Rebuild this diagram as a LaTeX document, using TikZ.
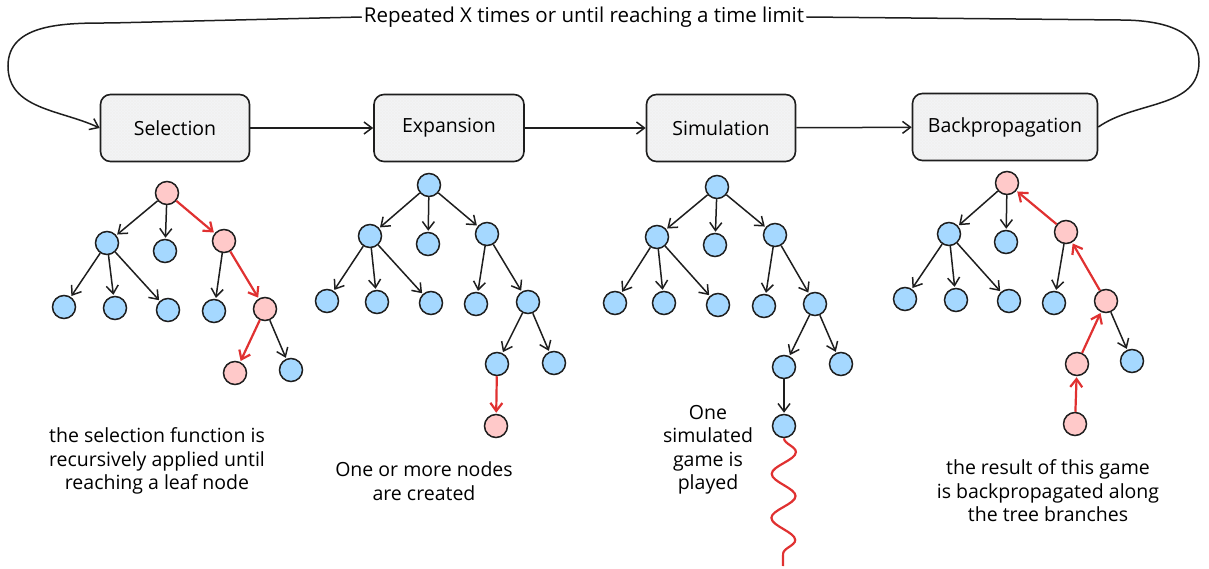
\documentclass[tikz,border=0pt]{standalone}
\usepackage{fontspec}
\setmainfont{Open Sans}
\usetikzlibrary{arrows.meta,decorations.pathmorphing,patterns}
\definecolor{nblue}{HTML}{A5D8FF}
\definecolor{npink}{HTML}{FFC9C9}
\definecolor{ered}{HTML}{E03131}
\definecolor{ink}{HTML}{1E1E1E}
\definecolor{boxfill}{HTML}{F3F4F6}
\begin{document}
\begin{tikzpicture}[x=1pt,y=1pt,
  tn/.style={circle,draw=ink,line width=1.5pt,minimum size=23pt,inner sep=0pt},
  bl/.style={tn,fill=nblue},
  pk/.style={tn,fill=npink},
  ed/.style={draw=ink,line width=1.5pt,-{Straight Barb[length=8pt,width=12pt]},shorten >=1pt},
  hot/.style={draw=ered,line width=2.2pt,-{Straight Barb[length=8pt,width=12pt]},shorten >=1pt},
  stage/.style={draw=ink,line width=1.6pt,rounded corners=10pt,preaction={fill=boxfill},
    pattern=crosshatch,pattern color=black!6,minimum height=67pt,
    font=\fontsize{19.5}{22}\selectfont},
  flow/.style={draw=ink,line width=1.5pt,-{Straight Barb[length=8pt,width=12pt]}},
  desc/.style={align=center,font=\fontsize{19.5}{23.5}\selectfont,inner sep=0pt}
]
\useasboundingbox (0,0) rectangle (1209,-569);

% stage boxes
\node[stage,minimum width=149pt] (sel) at (175,-128) {Selection};
\node[stage,minimum width=150pt] (exp) at (449,-128) {Expansion};
\node[stage,minimum width=149pt] (sim) at (721,-128) {Simulation};
\node[stage,minimum width=185pt] (bp)  at (1005,-127) {Backpropagation};

\draw[flow] (sel) -- (exp);
\draw[flow] (exp) -- (sim);
\draw[flow] (sim) -- (bp);

% loop
\node[font=\fontsize{20.5}{22}\selectfont,inner sep=2pt] (top) at (584,-17) {Repeated X times or until reaching a time limit};
\coordinate (lk1) at (110,-23);
\coordinate (lk2) at (8,-66);
\coordinate (rk1) at (1120,-20);
\coordinate (rk2) at (1199,-62);
\draw[flow] (top.west) -- (lk1) to[out=180,in=90] (lk2) to[out=-90,in=155] (sel.west);
\draw[draw=ink,line width=1.5pt] (top.east) -- (rk1) to[out=0,in=90] (rk2) to[out=-90,in=35] (bp.east);

% ---- Selection tree
\node[pk] (s0) at (167,-193) {};
\node[bl] (sA) at (107,-243) {};
\node[bl] (sB) at (165,-251) {};
\node[pk] (sC) at (224,-241) {};
\node[bl] (sA1) at (64,-307) {};
\node[bl] (sA2) at (115,-308) {};
\node[bl] (sA3) at (168,-310) {};
\node[bl] (sC1) at (214,-311) {};
\node[pk] (sC2) at (265,-309) {};
\node[pk] (sC21) at (235,-373) {};
\node[bl] (sC22) at (291,-370) {};
\draw[ed] (s0) -- (sA);
\draw[ed] (s0) -- (sB);
\draw[hot] (s0) -- (sC);
\draw[ed] (sA) -- (sA1);
\draw[ed] (sA) -- (sA2);
\draw[ed] (sA) -- (sA3);
\draw[ed] (sC) -- (sC1);
\draw[hot] (sC) -- (sC2);
\draw[hot] (sC2) -- (sC21);
\draw[ed] (sC2) -- (sC22);

% ---- Expansion tree
\node[bl] (e0) at (429,-185) {};
\node[bl] (eA) at (370,-236) {};
\node[bl] (eB) at (428,-244) {};
\node[bl] (eC) at (487,-234) {};
\node[bl] (eA1) at (327,-301) {};
\node[bl] (eA2) at (377,-302) {};
\node[bl] (eA3) at (431,-303) {};
\node[bl] (eC1) at (476,-304) {};
\node[bl] (eC2) at (528,-302) {};
\node[bl] (eC21) at (497,-364) {};
\node[bl] (eC22) at (554,-363) {};
\node[pk] (eN) at (496,-426) {};
\draw[ed] (e0) -- (eA);
\draw[ed] (e0) -- (eB);
\draw[ed] (e0) -- (eC);
\draw[ed] (eA) -- (eA1);
\draw[ed] (eA) -- (eA2);
\draw[ed] (eA) -- (eA3);
\draw[ed] (eC) -- (eC1);
\draw[ed] (eC) -- (eC2);
\draw[ed] (eC2) -- (eC21);
\draw[ed] (eC2) -- (eC22);
\draw[hot] (eC21) -- (eN);

% ---- Simulation tree
\node[bl] (m0) at (717,-187) {};
\node[bl] (mA) at (657,-237) {};
\node[bl] (mB) at (715,-245) {};
\node[bl] (mC) at (775,-235) {};
\node[bl] (mA1) at (615,-303) {};
\node[bl] (mA2) at (664,-303) {};
\node[bl] (mA3) at (718,-305) {};
\node[bl] (mC1) at (764,-306) {};
\node[bl] (mC2) at (815,-304) {};
\node[bl] (mC21) at (784,-367) {};
\node[bl] (mC22) at (841,-364) {};
\node[bl] (mD) at (784,-426) {};
\draw[ed] (m0) -- (mA);
\draw[ed] (m0) -- (mB);
\draw[ed] (m0) -- (mC);
\draw[ed] (mA) -- (mA1);
\draw[ed] (mA) -- (mA2);
\draw[ed] (mA) -- (mA3);
\draw[ed] (mC) -- (mC1);
\draw[ed] (mC) -- (mC2);
\draw[ed] (mC2) -- (mC21);
\draw[ed] (mC2) -- (mC22);
\draw[ed] (mC21) -- (mD);
\coordinate (mEnd) at (783,-566);
\draw[draw=ered,line width=2.2pt,decorate,decoration={snake,amplitude=12pt,segment length=44pt}] (mD.south) -- (mEnd);

% ---- Backpropagation tree
\node[pk] (b0) at (1007,-183) {};
\node[bl] (bA) at (949,-234) {};
\node[bl] (bB) at (1006,-242) {};
\node[pk] (bC) at (1066,-232) {};
\node[bl] (bA1) at (905,-299) {};
\node[bl] (bA2) at (956,-300) {};
\node[bl] (bA3) at (1009,-301) {};
\node[bl] (bC1) at (1054,-303) {};
\node[pk] (bC2) at (1106,-301) {};
\node[pk] (bC21) at (1077,-364) {};
\node[bl] (bC22) at (1132,-361) {};
\node[pk] (bD) at (1075,-424) {};
\draw[ed] (b0) -- (bA);
\draw[ed] (b0) -- (bB);
\draw[hot] (bC) -- (b0);
\draw[ed] (bA) -- (bA1);
\draw[ed] (bA) -- (bA2);
\draw[ed] (bA) -- (bA3);
\draw[ed] (bC) -- (bC1);
\draw[hot] (bC2) -- (bC);
\draw[hot] (bC21) -- (bC2);
\draw[ed] (bC2) -- (bC22);
\draw[hot] (bD) -- (bC21);

% ---- descriptions
\node[desc] (dsel) at (157,-461) {the selection function is\\recursively applied until\\reaching a leaf node};
\node[desc] (dexp) at (424,-481) {One or more nodes\\are created};
\node[desc] (dsim) at (708,-450) {One\\simulated\\game is\\played};
\node[desc] (dbp) at (1048,-491) {the result of this game\\is backpropagated along\\the tree branches};
\end{tikzpicture}
\end{document}
